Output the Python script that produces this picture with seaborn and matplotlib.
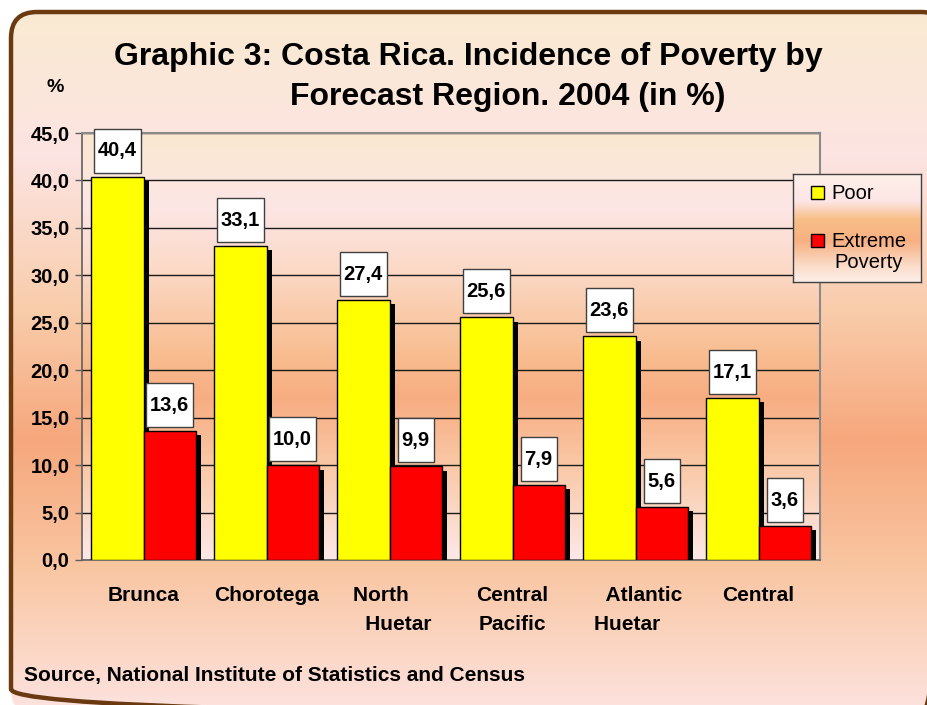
import numpy as np
import pandas as pd
import matplotlib
matplotlib.use("Agg")
import matplotlib.pyplot as plt
import seaborn as sns
from matplotlib.colors import LinearSegmentedColormap, to_rgb
from matplotlib.patches import FancyBboxPatch
from matplotlib.path import Path
import matplotlib.patheffects as pe

# ---- data -------------------------------------------------------------
regions = ["Brunca", "Chorotega", "North\nHuetar", "Central\nPacific",
           "Atlantic\nHuetar", "Central"]
region_ticklabels = ["Brunca", "Chorotega", "North   \n   Huetar",
                     "Central\nPacific", "   Atlantic\nHuetar   ", "Central"]
poor = [40.4, 33.1, 27.4, 25.6, 23.6, 17.1]
extreme = [13.6, 10.0, 9.9, 7.9, 5.6, 3.6]
series_names = ["Poor", "Extreme Poverty"]
y_ticks = [0, 5, 10, 15, 20, 25, 30, 35, 40, 45]

df = pd.DataFrame({
    "region": regions * 2,
    "value": poor + extreme,
    "series": [series_names[0]] * len(regions) + [series_names[1]] * len(regions),
})

# ---- style ------------------------------------------------------------
sns.set_theme(style="white")
plt.rcParams["font.family"] = ["Liberation Sans", "DejaVu Sans"]
plt.rcParams["text.color"] = "black"
plt.rcParams["xtick.color"] = "black"
plt.rcParams["ytick.color"] = "black"
plt.rcParams["axes.labelcolor"] = "black"

W, H = 927, 705
fig = plt.figure(figsize=(W / 100, H / 100), dpi=100)
fig.patch.set_facecolor("white")


def fx(px):
    return px / W


def fy(py):
    return 1 - py / H


def vgrad(stops, n=512):
    """Vertical gradient image from (position, colour) stops, top to bottom."""
    cmap = LinearSegmentedColormap.from_list("g", [(p, to_rgb(c)) for p, c in stops])
    return cmap(np.linspace(0, 1, n))[:, None, :]


# ---- framed gradient background --------------------------------------
bg = fig.add_axes([0, 0, 1, 1], zorder=0)
bg.axis("off")

frame_grad = vgrad([(0.0, "#FAEAD2"), (0.2, "#FCE4E2"), (0.42, "#F9CCAA"),
                    (0.6, "#F6A77C"), (0.78, "#F9C6A2"), (1.0, "#FDE5E5")])
img = bg.imshow(frame_grad, extent=[11, W + 30, H + 20, 12], aspect="auto",
                interpolation="bilinear", zorder=1)
frame = FancyBboxPatch((11, 12), W + 20 - 11, H + 10 - 12,
                       boxstyle="round,pad=0,rounding_size=26",
                       facecolor="none", edgecolor="#6B3A10", linewidth=3.2, zorder=3)
bg.add_patch(frame)
img.set_clip_path(frame)

# plot-area gradient
ax_l, ax_r, ax_t, ax_b = 82, 820, 133, 560
pa_grad = vgrad([(0.0, "#FAE8D0"), (0.17, "#FDE6E6"), (0.33, "#FBD8C4"),
                 (0.52, "#F8BD90"), (0.62, "#F7AD82"), (0.78, "#FAC8A6"),
                 (0.9, "#FBDACA"), (1.0, "#FDE8E8")])
bg.imshow(pa_grad, extent=[ax_l, ax_r, ax_b, ax_t], aspect="auto",
          interpolation="bilinear", zorder=2)
bg.set_xlim(0, W)
bg.set_ylim(H, 0)

# ---- bar chart --------------------------------------------------------
ax = fig.add_axes([fx(ax_l), fy(ax_b), fx(ax_r - ax_l), (ax_b - ax_t) / H], zorder=2)
ax.patch.set_alpha(0)

sns.barplot(data=df, x="region", y="value", hue="series", order=regions,
            hue_order=series_names, palette=["#FFFF00", "#FF0000"],
            width=0.85, edgecolor="black", linewidth=1.0, saturation=1,
            errorbar=None, ax=ax, zorder=3)

shadow = [pe.SimplePatchShadow(offset=(3.8, -3.2), shadow_rgbFace="black",
                               alpha=1.0), pe.Normal()]
for container in ax.containers:
    for bar in container:
        bar.set_path_effects(shadow)

handles, labels = ax.get_legend_handles_labels()
if ax.get_legend() is not None:
    ax.get_legend().remove()


def label_box(x0, y0, width, height, mutation_size):
    px = 0.2 * mutation_size
    py = 0.62 * mutation_size
    x0, y0 = x0 - px, y0 - py
    x1, y1 = x0 + width + 2 * px, y0 + height + 2 * py
    return Path([(x0, y0), (x1, y0), (x1, y1), (x0, y1), (x0, y0)], closed=True)


for container in ax.containers:
    for bar in container:
        v = bar.get_height()
        ax.annotate(f"{v:.1f}".replace(".", ","),
                    (bar.get_x() + bar.get_width() / 2, v),
                    xytext=(0, 18.5), textcoords="offset points",
                    ha="center", va="center", fontsize=14.5, fontweight="bold",
                    color="black", zorder=6, annotation_clip=False,
                    bbox=dict(boxstyle=label_box, facecolor="white",
                              edgecolor="#404040", linewidth=1.0))

ax.set_ylim(0, 45)
ax.set_xlim(-0.5, len(regions) - 0.5)
ax.set_yticks(y_ticks)
ax.set_yticklabels([f"{t:.1f}".replace(".", ",") for t in y_ticks],
                   fontsize=14.5, fontweight="bold")
ax.set_xticks(np.arange(-0.5, len(regions), 1.0))
ax.set_xticklabels([])
ax.set_xticks(np.arange(len(regions)), minor=True)
ax.set_xticklabels(region_ticklabels, minor=True, fontsize=15,
                   fontweight="bold", linespacing=1.65, va="top")
ax.tick_params(axis="x", which="minor", length=0, pad=19)
ax.tick_params(axis="x", which="major", length=5, width=1, color="#606060",
               direction="out")
ax.tick_params(axis="y", length=5, width=1, color="#606060", direction="out",
               pad=4, left=True)
ax.set_xlabel("")
ax.set_ylabel("")
ax.yaxis.grid(True, color="#1a1a1a", linewidth=1.0, zorder=1)
ax.set_axisbelow(True)
for side in ["top", "right"]:
    ax.spines[side].set_visible(True)
    ax.spines[side].set_color("#8a8a8a")
    ax.spines[side].set_linewidth(1.5)
for side in ["left", "bottom"]:
    ax.spines[side].set_color("#606060")
    ax.spines[side].set_linewidth(1.2)

# ---- legend -----------------------------------------------------------
lg_l, lg_r, lg_t, lg_b = 793, 921, 174, 282
legax = fig.add_axes([fx(lg_l), fy(lg_b), fx(lg_r - lg_l), (lg_b - lg_t) / H], zorder=5)
legax.imshow(vgrad([(0.0, "#FDF0E8"), (0.25, "#FDE6E6"), (0.42, "#F8BE88"),
                    (0.62, "#F7B082"), (0.85, "#FBDCC8"), (1.0, "#FDEEEA")]),
             extent=[0, 1, 0, 1], aspect="auto", interpolation="bilinear")
legax.set_xlim(0, 1)
legax.set_ylim(0, 1)
legax.set_xticks([])
legax.set_yticks([])
for s in legax.spines.values():
    s.set_color("#404040")
    s.set_linewidth(1.0)
leg = legax.legend(handles, ["Poor", "Extreme"], loc="upper left",
                   bbox_to_anchor=(0.08, 0.98), frameon=False, fontsize=14.5,
                   handlelength=0.62, handleheight=0.62, handletextpad=0.4,
                   labelspacing=1.45, borderaxespad=0)
for h in leg.legend_handles:
    h.set_path_effects([])
    h.set_edgecolor("black")
    h.set_linewidth(1.0)
legax.text(0.32, 0.18, "Poverty", fontsize=14.5, ha="left", va="center",
           transform=legax.transAxes)

# ---- titles and notes -------------------------------------------------
fig.text(fx(468), fy(57), "Graphic 3: Costa Rica. Incidence of Poverty by",
         ha="center", va="center", fontsize=23, fontweight="bold")
fig.text(fx(508), fy(97), "Forecast Region. 2004 (in %)",
         ha="center", va="center", fontsize=23, fontweight="bold")
fig.text(fx(55), fy(87), "%", ha="center", va="center", fontsize=14,
         fontweight="bold")
fig.text(fx(24), fy(676), "Source, National Institute of Statistics and Census",
         ha="left", va="center", fontsize=15, fontweight="bold")

fig.savefig("out.png", dpi=100, facecolor="white")
